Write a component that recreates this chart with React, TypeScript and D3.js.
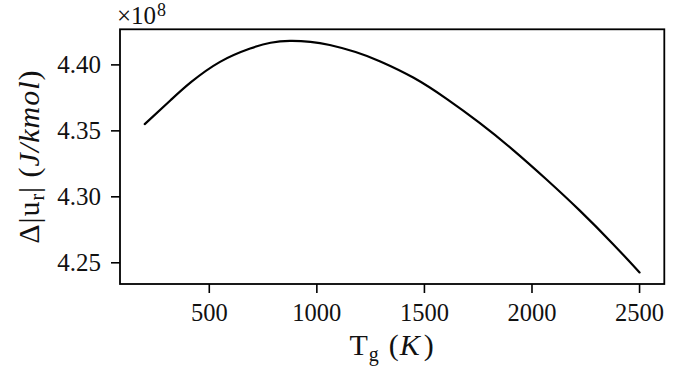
import React from "react";
import * as d3 from "d3";

const temperature = [200, 320, 415, 550, 690, 785, 875, 970, 1060, 1180, 1295, 1450, 1600, 1755, 1910, 2065, 2220, 2375, 2500];
const energy = [4.3551, 4.3732, 4.3869, 4.4023, 4.4124, 4.4168, 4.4182, 4.4175, 4.4151, 4.4098, 4.4026, 4.3902, 4.3746, 4.3562, 4.3358, 4.3135, 4.2899, 4.2645, 4.2427];
const xTicks = [500, 1000, 1500, 2000, 2500];
const yTicks = [4.25, 4.3, 4.35, 4.4];

const W = 686;
const H = 374;
const left = 120;
const right = 664.3;
const top = 29.3;
const bottom = 284;
const FONT = "'Liberation Serif', 'Times New Roman', serif";

function pad(ext: [number, number]): [number, number] {
  const m = (ext[1] - ext[0]) * 0.05;
  return [ext[0] - m, ext[1] + m];
}

export default function App() {
  const x = d3.scaleLinear().domain(pad(d3.extent(temperature) as [number, number])).range([left, right]);
  const y = d3.scaleLinear().domain(pad(d3.extent(energy) as [number, number])).range([bottom, top]);
  const pts = temperature.map((t, i) => [t, energy[i]] as [number, number]);
  const line = d3
    .line<[number, number]>()
    .x((d) => x(d[0]))
    .y((d) => y(d[1]))
    .curve(d3.curveNatural);

  return (
    <svg width={W} height={H} style={{ position: "absolute", left: 0, top: 0, background: "#fff" }} fontFamily={FONT}>
      <rect x={0} y={0} width={W} height={H} fill="#fff" />
      <path d={line(pts) || ""} fill="none" stroke="#000" strokeWidth={2.2} strokeLinejoin="round" strokeLinecap="round" />
      <rect x={left} y={top} width={right - left} height={bottom - top} fill="none" stroke="#000" strokeWidth={1.8} />
      {xTicks.map((t) => (
        <g key={"x" + t}>
          <line x1={x(t)} x2={x(t)} y1={bottom} y2={bottom + 9} stroke="#000" strokeWidth={1.6} />
          <text x={x(t)} y={bottom + 37} textAnchor="middle" fontSize={24.5} fill="#111">
            {t}
          </text>
        </g>
      ))}
      {yTicks.map((t) => (
        <g key={"y" + t}>
          <line x1={left - 9} x2={left} y1={y(t)} y2={y(t)} stroke="#000" strokeWidth={1.6} />
          <text x={left - 19} y={y(t) + 8.5} textAnchor="end" fontSize={25} fill="#111">
            {t.toFixed(2)}
          </text>
        </g>
      ))}
      <text x={117} y={24} fontSize={25} fill="#111">
        ×10
        <tspan dx={1} dy={-8} fontSize={18}>
          8
        </tspan>
      </text>
      <text x={(left + right) / 2} y={355} textAnchor="middle" fontSize={30} letterSpacing={1} fill="#111">
        T
        <tspan dy={6} fontSize={20}>
          g
        </tspan>
        <tspan dy={-6} dx={9}>(</tspan>
        <tspan fontStyle="italic">K</tspan>
        <tspan dx={3}>)</tspan>
      </text>
      <text
        transform={`translate(39, ${(top + bottom) / 2}) rotate(-90)`}
        textAnchor="middle"
        fontSize={30}
        letterSpacing={1}
        fill="#111"
      >
        Δ|u
        <tspan dy={5} fontSize={20}>
          r
        </tspan>
        <tspan dy={-5}>| (</tspan>
        <tspan fontStyle="italic">J/kmol</tspan>
        <tspan>)</tspan>
      </text>
    </svg>
  );
}
